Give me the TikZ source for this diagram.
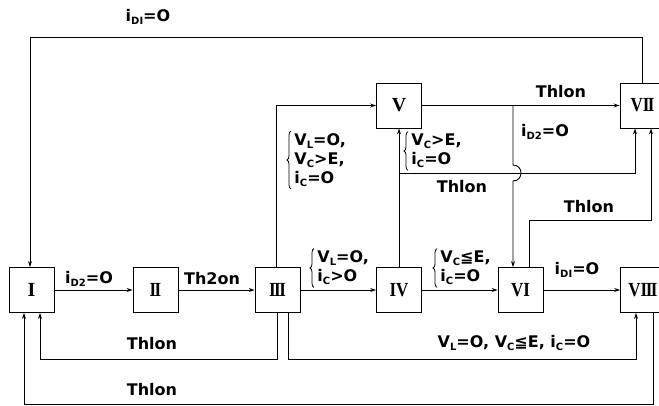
\documentclass[tikz,border=0pt]{standalone}
\usepackage{fontspec}
\usepackage{graphicx}
\setmainfont{Liberation Serif}
\newfontfamily\labfont{DejaVu Sans}
\usetikzlibrary{arrows.meta,calc,decorations.pathreplacing}
\newcommand\sbs[1]{\raisebox{-0.35ex}{\fontsize{10}{10}\selectfont #1}}
\newcommand\rn[1]{\scalebox{0.85}[1]{#1}}
\newcommand\kk{\kern-1.8pt}
\begin{document}
\begin{tikzpicture}[x=1pt,y=-1pt,line width=0.9pt,
  box/.style={draw,minimum width=45pt,minimum height=45pt,inner sep=0pt,
    font=\bfseries\fontsize{20}{20}\selectfont},
  arr/.style={-{Stealth[length=6pt,width=4pt]}},
  lbl/.style={font=\labfont\bfseries\fontsize{16}{19}\selectfont,inner sep=0pt,align=left},
  brlbl/.style={lbl,anchor=west},
  curly/.style={decorate,decoration={brace,amplitude=4pt},line width=0.8pt}]
\useasboundingbox (0,0) rectangle (659,406);
\clip (0,0) rectangle (659,406);
% states
\node[box] (n1) at (31.5,290) {I};
\node[box] (n2) at (155.5,290) {\rn{I\kk I}};
\node[box] (n3) at (277.5,290) {\rn{I\kk I\kk I}};
\node[box] (n4) at (399,290) {\rn{IV}};
\node[box] (n5) at (399,105.5) {V};
\node[box] (n6) at (520.5,290) {\rn{VI}};
\node[box] (n7) at (642.5,105.5) {\rn{VI\kk I}};
\node[box] (n8) at (643,290) {\rn{VI\kk I\kk I}};
% helper levels
\coordinate (ytop) at (0,37);
\coordinate (ymid) at (0,173);
\coordinate (yvi) at (0,220);
\coordinate (yb1) at (0,359);
\coordinate (yb2) at (0,404);
\coordinate (bx) at (513,0);
% connectors
\draw[arr] (n7.north) -- (n7.north |- ytop) -| ($(n1.north)+(-1.5,0)$);
\draw[arr] (n1.east) -- (n2.west);
\draw[arr] (n2.east) -- (n3.west);
\draw[arr] ($(n3.north)+(-1.5,0)$) |- (n5.west);
\draw[arr] (n3.east) -- (n4.west);
\draw[arr] (n4.north) -- (n5.south);
\draw[arr] (n4.north |- ymid) -| ($(n7.south)+(-7.5,0)$);
\draw[arr] (n5.east) -- (n7.west);
\draw[arr] (bx |- n5.east) -- ($(bx |- ymid)+(0,-8)$)
   .. controls +(10.7,0) and +(10.7,0) .. ($(bx |- ymid)+(0,8)$) -- (bx |- n6.north);
\draw[arr] ($(n6.north)+(8.5,0)$) |- ($(n7.south |- yvi)+(8.5,0)$) -- ($(n7.south)+(8.5,0)$);
\draw[arr] (n4.east) -- (n6.west);
\draw[arr] (n6.east) -- (n8.west);
\draw[arr] (n3.south) -- (n3.south |- yb1) -| ($(n1.south)+(8.5,0)$);
\draw[arr] ($(n3.south)+(10.5,0)$) |- ($(n8.south |- yb1)+(-7,0)$) -- ($(n8.south)+(-7,0)$);
\draw[arr] ($(n8.south)+(10,0)$) |- ($(n1.south |- yb2)+(-7.5,0)$) -- ($(n1.south)+(-7.5,0)$);
% labels
\node[lbl] (t1) at (148,17) {i\sbs{DI}=O};
\node[lbl] (t2) at (89,279) {i\sbs{D2}=O};
\node[lbl] (t3) at (212,279) {Th2on};
\node[brlbl] (t4) at (294,160) {V\sbs{L}=O,\\V\sbs{C}>E,\\i\sbs{C}=O};
\node[brlbl] (t5) at (317,268) {V\sbs{L}=O,\\i\sbs{C}>O};
\node[brlbl] (t6) at (411,151) {V\sbs{C}>E,\\i\sbs{C}=O};
\node[lbl] (t7) at (462,187) {Thlon};
\node[lbl] (t8) at (561,92) {Thlon};
\node[lbl] (t9) at (545,132) {i\sbs{D2}=O};
\node[lbl] (t10) at (589,207) {Thlon};
\node[brlbl] (t11) at (440,268) {V\sbs{C}≦E,\\i\sbs{C}=O};
\node[lbl] (t12) at (577,270) {i\sbs{DI}=O};
\node[lbl] (t13) at (152,344) {Thlon};
\node[lbl] (t14) at (514,343) {V\sbs{L}=O, V\sbs{C}≦E, i\sbs{C}=O};
\node[lbl] (t15) at (152,390) {Thlon};
% braces
\foreach \t in {t4,t5,t6,t11}
  \draw[curly] ($(\t.south west)+(-3,2)$) -- ($(\t.north west)+(-3,-2)$);
\end{tikzpicture}
\end{document}
